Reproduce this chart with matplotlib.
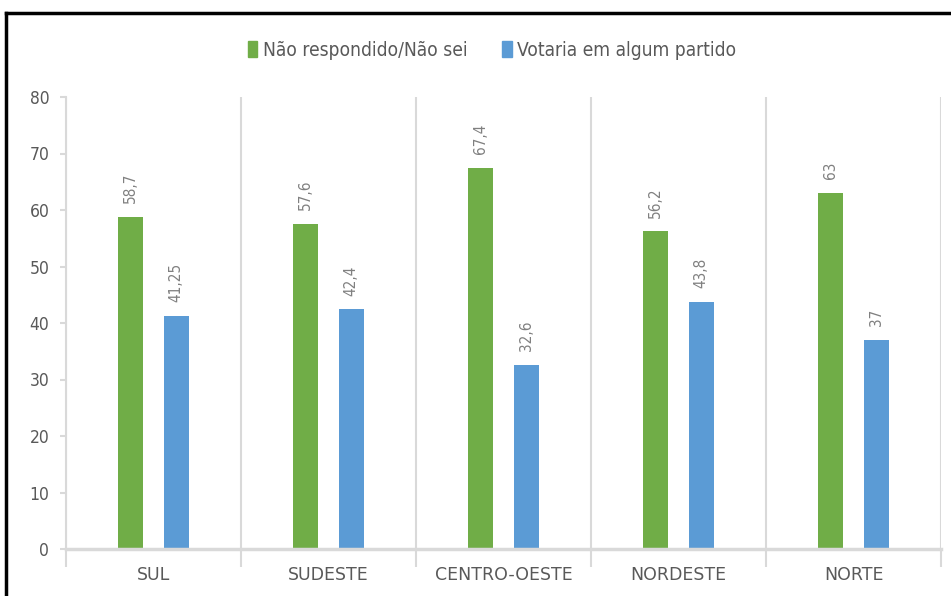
import matplotlib
matplotlib.use("Agg")
import matplotlib.pyplot as plt
from matplotlib.lines import Line2D
import numpy as np

categories = ["SUL", "SUDESTE", "CENTRO-OESTE", "NORDESTE", "NORTE"]
nao_sei = [58.7, 57.6, 67.4, 56.2, 63]
votaria = [41.25, 42.4, 32.6, 43.8, 37]
nao_sei_labels = ["58,7", "57,6", "67,4", "56,2", "63"]
votaria_labels = ["41,25", "42,4", "32,6", "43,8", "37"]
series_names = ["Não respondido/Não sei", "Votaria em algum partido"]
yticks = [0, 10, 20, 30, 40, 50, 60, 70, 80]

green = "#70ad47"
blue = "#5b9bd5"
grid_c = "#d9d9d9"
text_c = "#595959"
lab_c = "#808080"

plt.rcParams['font.family'] = ['DejaVu Sans']
plt.rcParams['font.stretch'] = 'condensed'

fig = plt.figure(figsize=(9.51, 5.96), dpi=100)
ax = fig.add_axes([66/951, 1-549/596, (941-66)/951, (549-97)/596])

x = np.arange(len(categories)) + 0.5
w = 0.145
off = 0.13
ax.bar(x - off, nao_sei, w, color=green, label=series_names[0], zorder=3)
ax.bar(x + off, votaria, w, color=blue, label=series_names[1], zorder=3)

for xi, v, s in zip(x - off, nao_sei, nao_sei_labels):
    ax.annotate(s, (xi, v), xytext=(0, 10), textcoords="offset points",
                rotation=90, ha="center", va="bottom", color=lab_c, fontsize=11)
for xi, v, s in zip(x + off, votaria, votaria_labels):
    ax.annotate(s, (xi, v), xytext=(0, 10), textcoords="offset points",
                rotation=90, ha="center", va="bottom", color=lab_c, fontsize=11)

ax.set_xlim(0, len(categories))
ax.set_ylim(0, 80)
ax.set_yticks(yticks)
ax.set_yticklabels([str(t) for t in yticks], color=text_c, fontsize=12.5)
ax.tick_params(axis="y", length=4, color=grid_c, width=1.5, pad=8)

ax.set_xticks(x)
ax.set_xticklabels(categories, color=text_c, fontsize=12.5, fontstretch='normal')
ax.tick_params(axis="x", length=0, pad=12)
ax.set_xticks(np.arange(len(categories) + 1), minor=True)
ax.tick_params(axis="x", which="minor", length=13, color=grid_c, width=1.5)

for b in np.arange(len(categories) + 1):
    ax.axvline(b, color=grid_c, lw=1.5, zorder=1)

for s in ["top", "right"]:
    ax.spines[s].set_visible(False)
ax.spines["left"].set_color(grid_c)
ax.spines["left"].set_linewidth(1.5)
ax.spines["bottom"].set_color(grid_c)
ax.spines["bottom"].set_linewidth(2.5)
ax.spines["bottom"].set_zorder(4)

handles = [plt.Rectangle((0, 0), 1, 1, color=green), plt.Rectangle((0, 0), 1, 1, color=blue)]
fig.legend(handles, series_names, loc="center", bbox_to_anchor=(492/951, 1-50/596),
           ncol=2, frameon=False, fontsize=13.8, handlelength=0.5, handleheight=0.85,
           handletextpad=0.3, columnspacing=1.8, labelcolor=text_c)

fig.add_artist(Line2D([6/951, 1.0], [1-13/596, 1-13/596], color="black", lw=2.5,
                      transform=fig.transFigure))
fig.add_artist(Line2D([6/951, 6/951], [0, 1-13/596], color="black", lw=2.5,
                      transform=fig.transFigure))

fig.savefig("out.png", dpi=100)
